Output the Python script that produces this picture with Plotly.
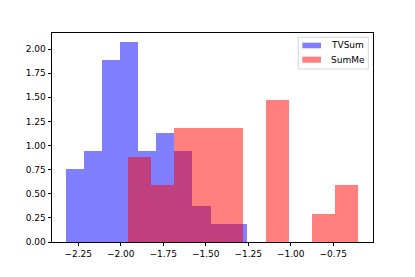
import numpy as np
import plotly.graph_objects as go

# TVSum histogram (density), 10 bins
tvsum_start = -2.322
tvsum_binw = 0.1063
tvsum_counts = [4, 5, 10, 11, 5, 6, 5, 2, 1, 1]

# SumMe histogram (density), 10 bins
summe_start = -1.959
summe_binw = 0.13564
summe_counts = [3, 2, 4, 4, 4, 0, 5, 0, 1, 2]

series_names = ["TVSum", "SumMe"]
series_colors = ["rgba(0,0,255,0.5)", "rgba(255,0,0,0.5)"]

x_ticks = [-2.25, -2.00, -1.75, -1.50, -1.25, -1.00, -0.75]
y_ticks = [0, 0.25, 0.5, 0.75, 1.0, 1.25, 1.5, 1.75, 2.0]


def hist_bars(start, w, counts):
    counts = np.array(counts, dtype=float)
    n = counts.sum()
    dens = counts / (n * w)
    centers = start + w * (np.arange(len(counts)) + 0.5)
    return centers, dens


tx, ty = hist_bars(tvsum_start, tvsum_binw, tvsum_counts)
sx, sy = hist_bars(summe_start, summe_binw, summe_counts)

fig = go.Figure()
fig.add_trace(go.Bar(x=tx, y=ty, width=tvsum_binw, name=series_names[0], showlegend=False,
                     marker=dict(color=series_colors[0], line=dict(width=0))))
fig.add_trace(go.Bar(x=sx, y=sy, width=summe_binw, name=series_names[1], showlegend=False,
                     marker=dict(color=series_colors[1], line=dict(width=0))))

axis_common = dict(showgrid=False, zeroline=False, showline=True, mirror=True,
                   linecolor="black", linewidth=0.8, ticks="outside", ticklen=3.5,
                   tickwidth=0.8, tickcolor="black",
                   tickfont=dict(family="DejaVu Sans", size=9, color="black"))

# matplotlib-style legend box (upper right)
shapes = [dict(type="rect", xref="paper", yref="paper", x0=0.7673, x1=0.9854, y0=0.8278, y1=0.9794,
               line=dict(color="#cccccc", width=0.8), fillcolor="rgba(255,255,255,0.8)", layer="above")]
annotations = []
sw_y = [(0.9268, 0.9536), (0.8579, 0.8866)]
txt_y = [0.9411, 0.8708]
for name, col, (y0, y1), ty_ in zip(series_names, series_colors, sw_y, txt_y):
    shapes.append(dict(type="rect", xref="paper", yref="paper", x0=0.7798, x1=0.838, y0=y0, y1=y1,
                       line=dict(width=0), fillcolor=col, layer="above"))
    annotations.append(dict(text=name, xref="paper", yref="paper", x=0.8639, y=ty_,
                            xanchor="left", yanchor="middle", showarrow=False,
                            font=dict(family="DejaVu Sans", size=9, color="black")))

fig.update_layout(
    width=407, height=269,
    margin=dict(l=44, r=42, t=25, b=35),
    barmode="overlay", bargap=0,
    plot_bgcolor="white", paper_bgcolor="white",
    xaxis=dict(range=[-2.404, -0.516], tickvals=x_ticks, tickformat=".2f", **axis_common),
    yaxis=dict(range=[0, 2.166], tickvals=y_ticks, tickformat=".2f", **axis_common),
    shapes=shapes, annotations=annotations,
    showlegend=False,
)

fig.write_html("out.html")
